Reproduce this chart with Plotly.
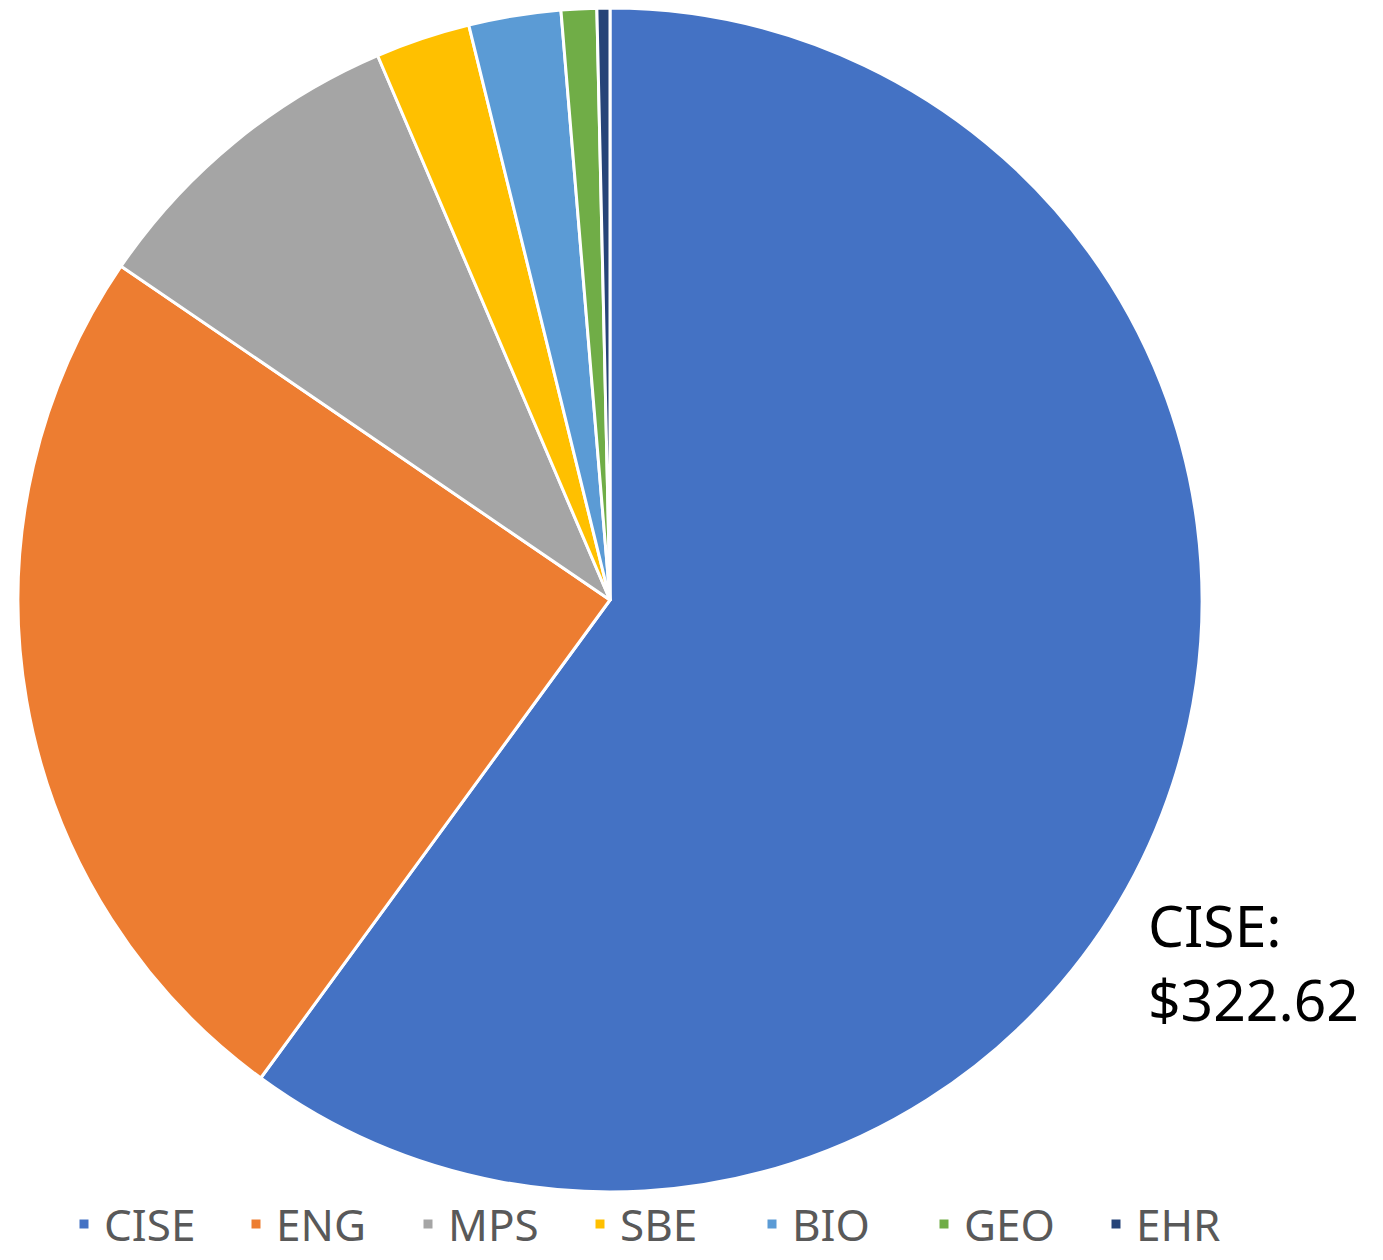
import plotly.graph_objects as go

categories = ["CISE", "ENG", "MPS", "SBE", "BIO", "GEO", "EHR"]
values = [322.62, 131.6, 48.6, 13.9, 13.5, 5.2, 1.9]
colors = ["#4472C4", "#ED7D31", "#A5A5A5", "#FFC000", "#5B9BD5", "#70AD47", "#264478"]

# the page body adds an 8px margin, so figure coordinates are page coordinates - 8
OFF = 8
W, H = 1383 - OFF, 1260 - OFF
cx, cy, r = 610 - OFF, 600 - OFF, 592


def clamp(v):
    return max(0.0, min(1.0, v))


fig = go.Figure(go.Pie(
    labels=categories,
    values=values,
    sort=False,
    direction="clockwise",
    rotation=0,
    marker=dict(colors=colors, line=dict(color="white", width=3)),
    textinfo="none",
    hoverinfo="label+value",
    domain=dict(x=[clamp((cx - r) / W), clamp((cx + r) / W)],
                y=[clamp(1 - (cy + r) / H), clamp(1 - (cy - r) / H)]),
))

fig.add_annotation(
    text=f"{categories[0]}:<br>${values[0]:.2f}",
    xref="paper", yref="paper",
    x=(1146 - OFF) / W, y=1 - (962 - OFF) / H,
    xanchor="left", yanchor="middle",
    align="left", showarrow=False,
    font=dict(family="Noto Sans", size=57, color="black"),
)

fig.update_layout(
    width=W, height=H,
    margin=dict(l=0, r=0, t=0, b=0, autoexpand=False),
    paper_bgcolor="white", plot_bgcolor="white",
    font=dict(family="Noto Sans"),
    legend=dict(
        orientation="h",
        x=(64 - OFF) / W, xanchor="left",
        y=0, yanchor="bottom",
        font=dict(family="Noto Sans", size=44, color="#595959"),
        itemwidth=30,
        entrywidth=127,
        bgcolor="rgba(0,0,0,0)",
    ),
    showlegend=True,
)

fig.write_html("out.html")
